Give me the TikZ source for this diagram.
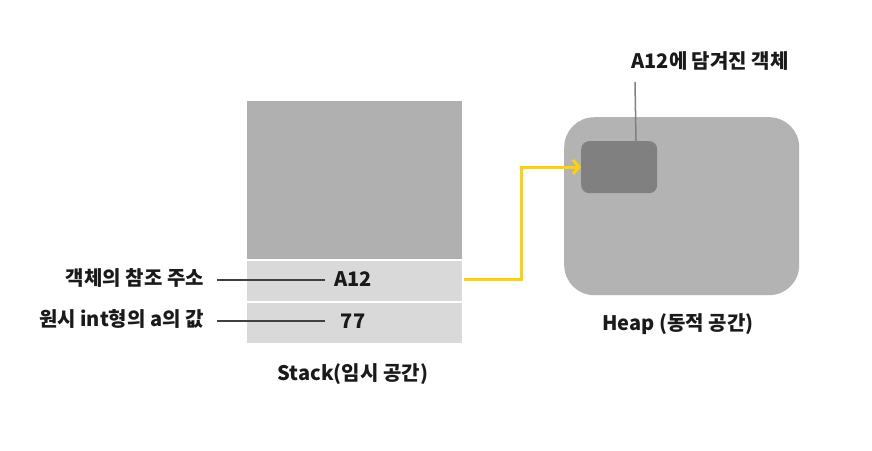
\documentclass[tikz,border=0pt]{standalone}
\usepackage{fontspec}
\setmainfont{Noto Sans CJK KR}
\usetikzlibrary{arrows.meta}
\definecolor{stackgray}{HTML}{B0B0B0}
\definecolor{cellgray}{HTML}{D9D9D9}
\definecolor{heapgray}{HTML}{B3B3B3}
\definecolor{objgray}{HTML}{808080}
\definecolor{arrowyellow}{HTML}{FFD200}
\definecolor{txt}{HTML}{1A1A1A}
\tikzset{
  lbl/.style={font=\fontsize{20}{22}\selectfont\bfseries, text=txt, inner sep=0pt},
  cellbox/.style={draw=white, line width=1.5pt, inner sep=0pt, anchor=north west},
  leader/.style={draw=black!75, line width=1.6pt},
}
\begin{document}
\begin{tikzpicture}[x=1pt,y=-1pt]
\useasboundingbox (0,0) rectangle (872,450);
% stack
\node[cellbox, fill=stackgray, minimum width=217pt, minimum height=160pt] (stk) at (245,99) {};
\node[cellbox, fill=cellgray, minimum width=217pt, minimum height=42pt] (ref) at (245,259) {};
\node[cellbox, fill=cellgray, minimum width=217pt, minimum height=42pt] (val) at (245,301) {};
\node[lbl] (a12) at (353,279) {A12};
\node[lbl] (v77) at (353,321) {77};
\node[lbl, anchor=east] (lref) at (204,278) {객체의 참조 주소};
\node[lbl, anchor=east] (lval) at (204,319) {원시 int형의 a의 값};
\coordinate (r1) at (217,280);
\coordinate (r2) at (325,280);
\coordinate (v1) at (217,321);
\coordinate (v2) at (325,321);
\draw[leader] (r1) -- (r2);
\draw[leader] (v1) -- (v2);
\node[lbl] (stklbl) at (353,374) {Stack(임시 공간)};
% heap
\node[fill=heapgray, rounded corners=30pt, minimum width=235pt, minimum height=178pt, inner sep=0pt, anchor=north west] (heap) at (564,117) {};
\node[fill=objgray, rounded corners=8pt, minimum width=76pt, minimum height=52pt, inner sep=0pt, anchor=north west] (obj) at (581,141) {};
\node[lbl] (heaplbl) at (678,324) {Heap (동적 공간)};
\node[lbl] (objlbl) at (710,61) {A12에 담겨진 객체};
\coordinate (o1) at (635,82);
\draw[objgray, line width=1.5pt] (o1) -- (obj.north -| 636,0);
% arrow
\coordinate (bend1) at (521,279);
\coordinate (bend2) at (521,167);
\draw[arrowyellow, line width=3pt, -{Straight Barb[length=6pt,width=14pt]}] (ref.east |- 0,279) -- (bend1) -- (bend2) -- (obj.west |- 0,167);
\end{tikzpicture}
\end{document}
